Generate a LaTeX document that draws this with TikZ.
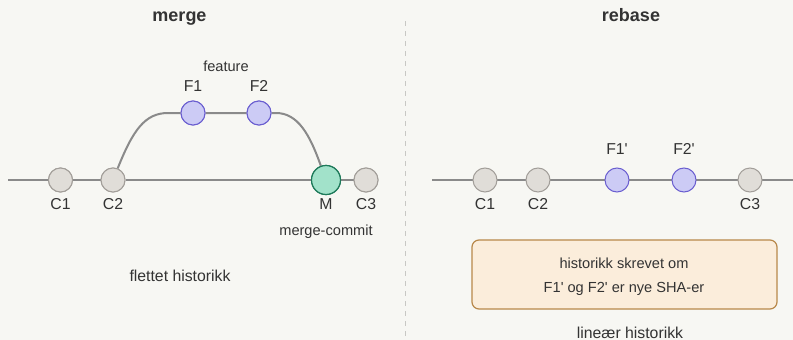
\documentclass[tikz,border=0pt]{standalone}
\usepackage{fontspec}
\setmainfont{Liberation Sans}[Ligatures=TeXOff]
\definecolor{bg}{HTML}{F7F7F3}
\definecolor{txt}{HTML}{333333}
\definecolor{edge}{HTML}{8A8A8A}
\definecolor{gfill}{HTML}{E0DDD8}
\definecolor{gline}{HTML}{A29E99}
\definecolor{pfill}{HTML}{CCCBF5}
\definecolor{pline}{HTML}{6A5ED0}
\definecolor{mfill}{HTML}{A2E2CA}
\definecolor{mline}{HTML}{1E7A5A}
\definecolor{bfill}{HTML}{FBEDDB}
\definecolor{bline}{HTML}{B8884A}
\definecolor{divc}{HTML}{C8C8C4}
\tikzset{
  commit/.style={circle, minimum size=24pt, inner sep=0pt, line width=1pt, draw=gline, fill=gfill},
  feat/.style={commit, draw=pline, fill=pfill},
  mergec/.style={commit, minimum size=29pt, line width=1.2pt, draw=mline, fill=mfill},
  lbl/.style={text=txt, font=\fontsize{15.8}{18}\selectfont, inner sep=0pt, anchor=base},
  small/.style={text=txt, font=\fontsize{14.6}{17}\selectfont, inner sep=0pt, anchor=base},
  ttl/.style={text=txt, font=\fontsize{18}{21}\selectfont\bfseries, inner sep=0pt, anchor=base},
  branch/.style={draw=edge, line width=2pt},
}
\begin{document}
\begin{tikzpicture}[x=1pt,y=-1pt]
\fill[bg] (0,0) rectangle (793,340);
\useasboundingbox (0,0) rectangle (793,340);
% divider
\coordinate (dtop) at (405,21);
\coordinate (dbot) at (405,340);
\draw[divc, line width=1pt, dash pattern=on 5pt off 5pt] (dtop) -- (dbot);
% titles
\node[ttl] (tmerge) at (179.5,21.7) {merge};
\node[ttl] (trebase) at (631,21.7) {rebase};
% ===== merge panel =====
\coordinate (lstart) at (8,180);
\node[commit] (c1) at (60.5,180) {};
\node[commit] (c2) at (113,180) {};
\node[feat] (f1) at (193,113) {};
\node[feat] (f2) at (259,113) {};
\node[mergec] (m) at (326,180) {};
\node[commit] (c3) at (366,180) {};
\draw[branch] (lstart) -- (c1) -- (c2) -- (m) -- (c3);
\draw[branch] (c2.68) .. controls (133,130) and (145,113) .. (168,113) -- (f1) -- (f2);
\draw[branch] (f2.east) -- (276,113) .. controls (298,113) and (310,135) .. (m.110);
% redraw nodes on top of the branches
\node[commit] at (c1) {};
\node[commit] at (c2) {};
\node[feat] at (f1) {};
\node[feat] at (f2) {};
\node[mergec] at (m) {};
\node[commit] at (c3) {};
\node[lbl] (lc1) at (60.5,209) {C1};
\node[lbl] (lc2) at (113,209) {C2};
\node[lbl] (lm) at (326,209) {M};
\node[lbl] (lc3) at (366,209) {C3};
\node[lbl] (lf1) at (193,91) {F1};
\node[lbl] (lf2) at (259,91) {F2};
\node[small] (lfeat) at (226,71.5) {feature};
\node[small] (lmc) at (326,235) {merge-commit};
\node[lbl] (lflet) at (180,281) {flettet historikk};
% ===== rebase panel =====
\coordinate (rstart) at (432,180);
\coordinate (rend) at (793,180);
\draw[branch] (rstart) -- (rend);
\node[commit] (r1) at (485,180) {};
\node[commit] (r2) at (538,180) {};
\node[feat] (rf1) at (617,180) {};
\node[feat] (rf2) at (684,180) {};
\node[commit] (r3) at (750,180) {};
\node[lbl] (lr1) at (485,209) {C1};
\node[lbl] (lr2) at (538,209) {C2};
\node[lbl] (lr3) at (750,209) {C3};
\node[lbl] (lrf1) at (617,154.5) {F1'};
\node[lbl] (lrf2) at (684,154.5) {F2'};
\node[draw=bline, fill=bfill, line width=1.2pt, rounded corners=7pt,
      minimum width=305pt, minimum height=69pt, inner sep=0pt] (box) at (624.5,274.5) {};
\node[small] (b1) at (624,268.5) {historikk skrevet om};
\node[small] (b2) at (624,292) {F1' og F2' er nye SHA-er};
\node[lbl] (llin) at (630,338.3) {lineær historikk};
\end{tikzpicture}
\end{document}
